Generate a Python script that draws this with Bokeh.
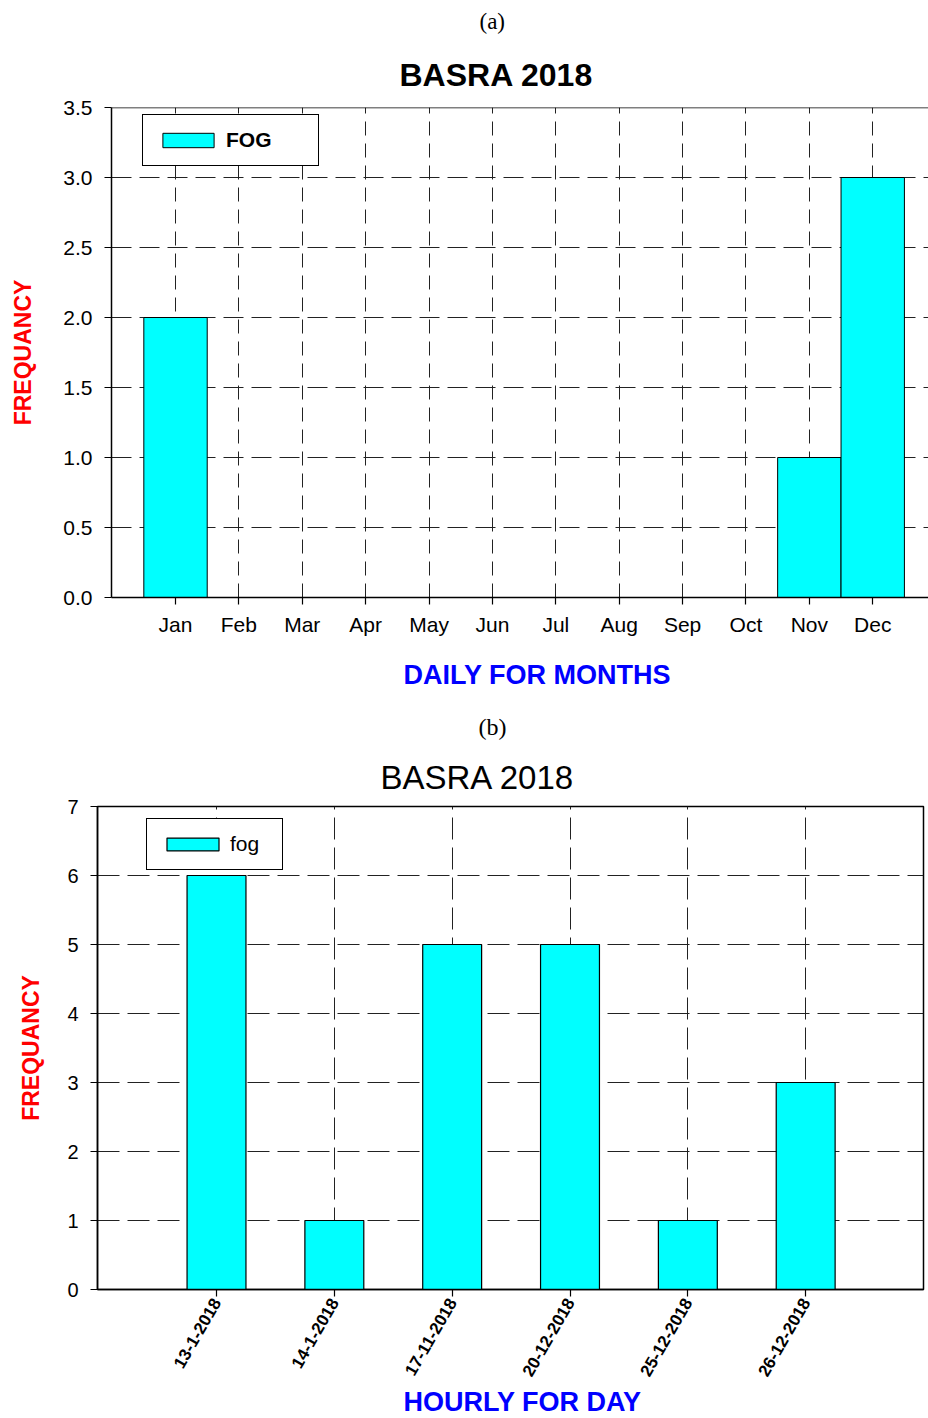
import math
from bokeh.plotting import figure
from bokeh.models import (FixedTicker, Title, Legend, LegendItem, Span, Range1d,
                          ColumnDataSource, PrintfTickFormatter)
from bokeh.embed import file_html
from bokeh.resources import INLINE

# ---------------- data ----------------
months = ["Jan", "Feb", "Mar", "Apr", "May", "Jun",
          "Jul", "Aug", "Sep", "Oct", "Nov", "Dec"]
fog_month = [2, 0, 0, 0, 0, 0, 0, 0, 0, 0, 1, 3]

days = ["13-1-2018", "14-1-2018", "17-11-2018",
        "20-12-2018", "25-12-2018", "26-12-2018"]
fog_day = [6, 1, 5, 5, 1, 3]

y_ticks_a = [0, 0.5, 1.0, 1.5, 2.0, 2.5, 3.0, 3.5]
y_ticks_b = [0, 1, 2, 3, 4, 5, 6, 7]

SANS = "Liberation Sans"
SERIF = "Liberation Serif"
CYAN = "#00FFFF"
GRID = "#222222"


def style_axes(p):
    for ax in (p.xaxis[0], p.yaxis[0]):
        ax.axis_line_color = "black"
        ax.axis_line_width = 1.5
        ax.major_tick_line_color = "black"
        ax.major_tick_line_width = 1.2
        ax.major_tick_in = 0
        ax.major_tick_out = 7
        ax.minor_tick_line_color = None
        ax.major_label_text_font = SANS
        ax.major_label_text_color = "black"
        ax.axis_label_text_font = SANS
    p.background_fill_color = "white"
    p.border_fill_color = "white"


# ---------------- (a) monthly ----------------
xa = list(range(len(months)))
src_a = ColumnDataSource(dict(x=xa, month=months, fog=fog_month))

pa = figure(width=928, height=745, output_backend="svg", toolbar_location=None,
            x_range=Range1d(-1.01, 11.88), y_range=Range1d(0, 3.5),
            min_border_left=111, min_border_right=0, min_border_top=107,
            min_border_bottom=148)
pa.outline_line_color = None
ra = pa.vbar(x="x", top="fog", bottom=0, width=1.0, source=src_a,
             fill_color=CYAN, line_color="black", line_width=1)

style_axes(pa)
pa.xaxis.ticker = FixedTicker(ticks=xa)
pa.xaxis.major_label_overrides = {i: m for i, m in zip(xa, months)}
pa.xaxis.major_label_text_font_size = "21px"
pa.xaxis.major_label_standoff = 8
pa.yaxis.ticker = FixedTicker(ticks=y_ticks_a)
pa.yaxis.formatter = PrintfTickFormatter(format="%.1f")
pa.yaxis.major_label_text_font_size = "21px"
pa.yaxis.major_label_standoff = 12
pa.yaxis.axis_label = "FREQUANCY"
pa.yaxis.axis_label_text_font_size = "23px"
pa.yaxis.axis_label_text_font_style = "bold"
pa.yaxis.axis_label_text_color = "#FF0000"
pa.yaxis.axis_label_standoff = 24

pa.xgrid.ticker = FixedTicker(ticks=xa)
pa.xgrid.grid_line_color = GRID
pa.xgrid.grid_line_dash = "14 8"
pa.ygrid.ticker = FixedTicker(ticks=y_ticks_a)
pa.ygrid.grid_line_color = GRID
pa.ygrid.grid_line_dash = "20 8"

pa.add_layout(Span(location=3.5, dimension="width", line_color="black",
                   line_width=1.5))

leg_a = Legend(items=[LegendItem(label="FOG", renderers=[ra])],
               location=(31, 431), glyph_width=64, glyph_height=18,
               label_standoff=6, padding=13, label_width=79,
               label_text_font=SANS, label_text_font_size="21px",
               label_text_font_style="bold", label_text_color="black",
               border_line_color="black", border_line_alpha=1,
               border_line_width=1.2, background_fill_color="white",
               background_fill_alpha=1)
pa.add_layout(leg_a)

pa.add_layout(Title(text="BASRA 2018", align="left", offset=288, standoff=29,
                    text_font=SANS, text_font_size="32px",
                    text_font_style="bold", text_color="black"), "above")
pa.add_layout(Title(text="(a)", align="left", offset=368, standoff=13,
                    text_font=SERIF, text_font_size="23px",
                    text_font_style="normal", text_color="black"), "above")
pa.add_layout(Title(text="DAILY FOR MONTHS", align="left", offset=292,
                    standoff=38, text_font=SANS, text_font_size="27px",
                    text_font_style="bold", text_color="#0000FF"), "below")
pa.add_layout(Title(text="(b)", align="left", offset=367, standoff=6,
                    text_font=SERIF, text_font_size="24px",
                    text_font_style="normal", text_color="black"), "below")

# ---------------- (b) hourly ----------------
xb = list(range(len(days)))
src_b = ColumnDataSource(dict(x=xb, day=days, fog=fog_day))

pb = figure(width=928, height=673, output_backend="svg", toolbar_location=None,
            x_range=Range1d(-1.01, 6.0), y_range=Range1d(0, 7),
            min_border_left=97, min_border_right=5, min_border_top=61,
            min_border_bottom=129)
pb.outline_line_color = "black"
pb.outline_line_width = 1.5
pb.outline_line_alpha = 1
rb = pb.vbar(x="x", top="fog", bottom=0, width=0.5, source=src_b,
             fill_color=CYAN, line_color="black", line_width=1.2)

style_axes(pb)
pb.xaxis.ticker = FixedTicker(ticks=xb)
pb.xaxis.major_label_overrides = {i: d for i, d in zip(xb, days)}
pb.xaxis.major_label_text_font_size = "17px"
pb.xaxis.major_label_text_font_style = "bold"
pb.xaxis.major_label_orientation = math.radians(60)
pb.xaxis.major_label_standoff = 3
pb.yaxis.ticker = FixedTicker(ticks=y_ticks_b)
pb.yaxis.major_label_text_font_size = "20px"
pb.yaxis.major_label_standoff = 12
pb.yaxis.axis_label = "FREQUANCY"
pb.yaxis.axis_label_text_font_size = "23px"
pb.yaxis.axis_label_text_font_style = "bold"
pb.yaxis.axis_label_text_color = "#FF0000"
pb.yaxis.axis_label_standoff = 20

pb.xgrid.ticker = FixedTicker(ticks=xb)
pb.xgrid.grid_line_color = GRID
pb.xgrid.grid_line_dash = "22 8"
pb.ygrid.ticker = FixedTicker(ticks=y_ticks_b)
pb.ygrid.grid_line_color = GRID
pb.ygrid.grid_line_dash = "22 8"

leg_b = Legend(items=[LegendItem(label="fog", renderers=[rb])],
               location=(49, 419), glyph_width=65, glyph_height=16,
               label_standoff=5, padding=13, label_width=39,
               label_text_font=SANS, label_text_font_size="21px",
               label_text_font_style="normal", label_text_color="black",
               border_line_color="black", border_line_alpha=1,
               border_line_width=1.2, background_fill_color="white",
               background_fill_alpha=1)
pb.add_layout(leg_b)

pb.add_layout(Title(text="BASRA 2018", align="left", offset=283, standoff=21,
                    text_font=SANS, text_font_size="33px",
                    text_font_style="normal", text_color="black"), "above")
pb.add_layout(Title(text="HOURLY FOR DAY", align="left", offset=306,
                    standoff=2, text_font=SANS, text_font_size="27px",
                    text_font_style="bold", text_color="#0000FF"), "below")

open("out.html", "w").write(file_html([pa, pb], INLINE))
